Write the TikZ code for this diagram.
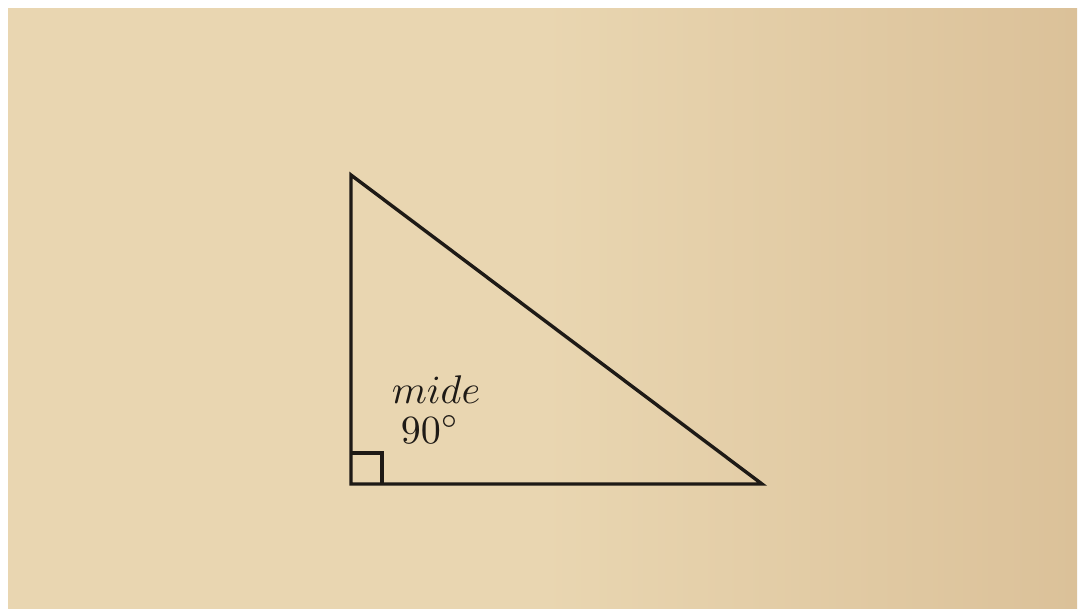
\documentclass[tikz,border=0pt]{standalone}
\usepackage{amsmath, amssymb}
\usetikzlibrary{positioning, calc}
\definecolor{paper}{HTML}{E9D6B1}
\definecolor{paperdark}{HTML}{DBC199}
\definecolor{ink}{HTML}{1E1A16}
\begin{document}
\begin{tikzpicture}[x=0.25pt, y=-0.25pt]
	 \tikzstyle{edge} = [draw, line width=0.85pt, ink, line join=miter]
	 \tikzstyle{tag} = [inner sep=0pt, text=ink]
	 \fill[white] (0,0) rectangle (1080,611);
	 \shade[left color=paper, right color=paperdark, middle color=paper] (8,8) rectangle (1077,608);
	 \coordinate (top) at (351,175);
	 \coordinate (corner) at (351,484);
	 \coordinate (right) at (762,484);
	 \coordinate (sq) at (382,453);
	 \draw[edge] (top) -- (corner) -- (right) -- cycle;
	 \draw[edge] (corner |- sq) -- (sq) -- (sq |- corner);
	 \node[tag, anchor=base] (name) at (436,403) {$mide$};
	 \node[tag, anchor=base] (angle) at (430,443) {$90^\circ$};
 \end{tikzpicture}
\end{document}
